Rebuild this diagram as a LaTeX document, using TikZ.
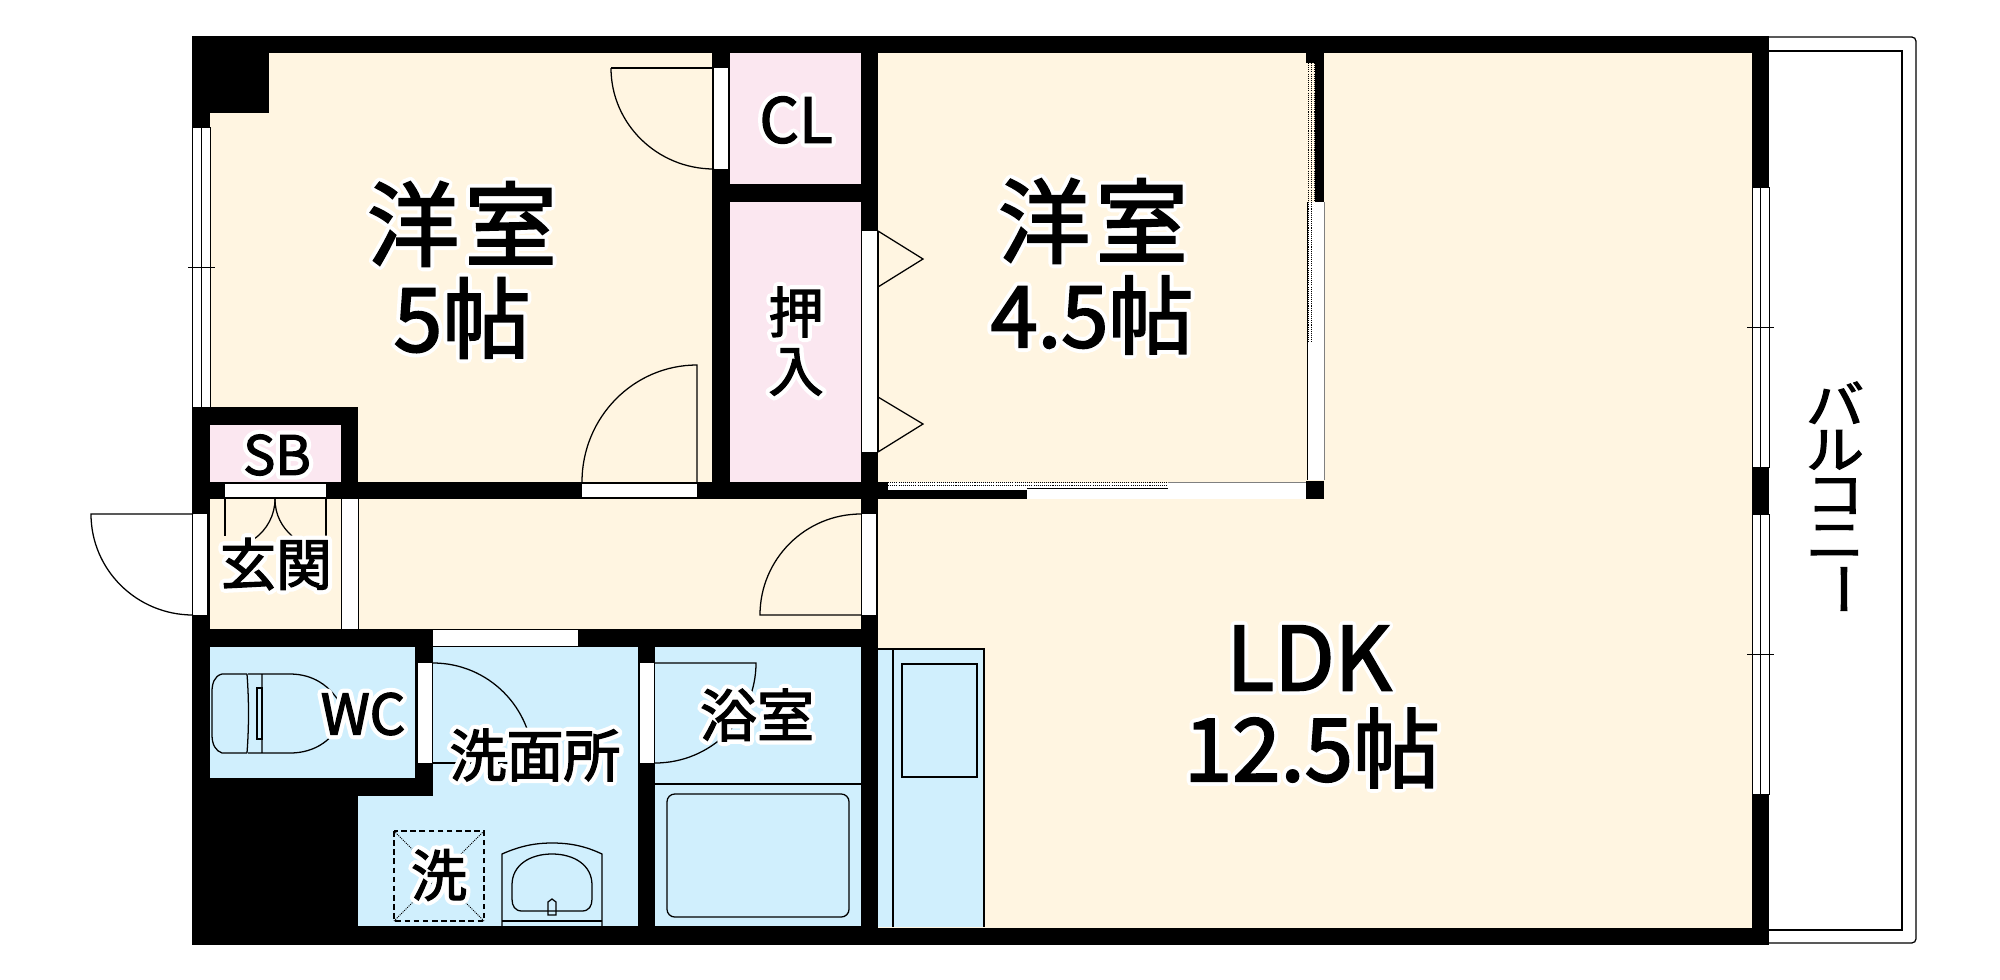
\documentclass[tikz,border=0pt]{standalone}
\usepackage{fontspec}
\newfontfamily\cjk{Noto Sans CJK JP}
\definecolor{cream}{RGB}{255,245,225}
\definecolor{pinkroom}{RGB}{251,231,240}
\definecolor{blueroom}{RGB}{208,239,253}
\newcommand\halo[2]{\leavevmode\rlap{\color{white}\special{pdf:code 2 Tr 14 w 1 J 1 j 1 1 1 RG}#2\special{pdf:code 0 Tr 1 w 0 J 0 j 0 0 0 RG}}\heavy{#1}{#2}}
\newcommand\heavy[2]{\special{pdf:code 2 Tr \fpeval{#1*0.032} w 0 0 0 RG}#2\special{pdf:code 0 Tr 1 w}}
\newcommand\lab[4]{\node[inner sep=0pt,anchor=center] (#1) at (#2) {\fontsize{\fpeval{#3*1.4226}}{\fpeval{#3*1.4226}}\cjk\selectfont\halo{#3}{#4}};}
\newcommand\wide[1]{\scalebox{1.15}[1]{\heavy{50}{#1}}}
\tikzset{
  wall/.style={fill=black,draw=none},
  opening/.style={fill=white,draw=none},
  thinl/.style={draw=black,line width=1.8pt},
  hair/.style={draw=black,line width=1.2pt},
  dots/.style={draw=black,line width=1.1pt,dash pattern=on 1.5pt off 1.5pt},
}
\begin{document}
\begin{tikzpicture}[x=0.05cm,y=-0.05cm]
\useasboundingbox (0,0) rectangle (2000,980);
% balcony
\draw[thinl,rounded corners=6pt] (1769,37) -- (1916,37) -- (1916,943) -- (1769,943);
\draw[thinl] (1769,51) -- (1902,51) -- (1902,930) -- (1769,930);
% floors
\fill[cream] (192,36) rectangle (1769,945);
\fill[pinkroom] (730,53) rectangle (861,482);
\fill[pinkroom] (210,425) rectangle (341,482);
\fill[blueroom] (210,647) rectangle (415,778);
\fill[blueroom] (433,647) rectangle (638,927);
\fill[blueroom] (358,796) rectangle (638,927);
\fill[blueroom] (655,647) rectangle (861,927);
\fill[blueroom] (878,649) rectangle (984,927);
% walls
\fill[wall] (192,36) rectangle (1769,53);
\fill[wall] (192,928) rectangle (1769,945);
\fill[wall] (192,36) rectangle (210,945);
\fill[wall] (192,36) rectangle (269,113);
\fill[wall] (1752,36) rectangle (1769,945);
\fill[wall] (712,36) rectangle (730,497);
\fill[wall] (712,184) rectangle (878,202);
\fill[wall] (861,36) rectangle (878,945);
\fill[wall] (192,407) rectangle (358,425);
\fill[wall] (341,407) rectangle (358,497);
\fill[wall] (192,482) rectangle (888,499);
\fill[wall] (888,490) rectangle (1027,499);
\fill[wall] (192,629) rectangle (878,647);
\fill[wall] (415,647) rectangle (433,796);
\fill[wall] (192,778) rectangle (433,796);
\fill[wall] (192,778) rectangle (358,945);
\fill[wall] (638,647) rectangle (655,945);
\fill[wall] (358,926) rectangle (878,945);
\fill[wall] (1315,36) rectangle (1324,202);
\fill[wall] (1306,36) rectangle (1324,63);
\fill[wall] (1306,481) rectangle (1324,499);
% windows
\fill[opening] (192,127) rectangle (210,407);
\draw[hair] (192,127) rectangle (210,407) (201,127) -- (201,407);
\draw[hair] (188,267) -- (215,267);
\fill[opening] (1752,187) rectangle (1769,467);
\draw[hair] (1752,187) rectangle (1769,467) (1760,187) -- (1760,467);
\draw[hair] (1747,327) -- (1774,327);
\fill[opening] (1752,514) rectangle (1769,794);
\draw[hair] (1752,514) rectangle (1769,794) (1760,514) -- (1760,794);
\draw[hair] (1747,654) -- (1774,654);
% door openings
\fill[opening] (714,68) rectangle (728,169);
\fill[opening] (582,484) rectangle (697,497);
\fill[opening] (225,484) rectangle (326,497);
\fill[opening] (193,514) rectangle (207,615);
\fill[opening] (862,514) rectangle (876,615);
\fill[opening] (862,231) rectangle (877,452);
\fill[opening] (341,499) rectangle (358,629);
\draw[hair] (341,499) -- (341,629) (358,499) -- (358,629);
\fill[opening] (433,630) rectangle (578,646);
\fill[opening] (418,663) rectangle (432,763);
\fill[opening] (640,663) rectangle (654,763);
\fill[opening] (1308,202) rectangle (1324,480);
\fill[opening] (1027,483) rectangle (1306,499);
\fill[opening] (888,482) rectangle (1027,490);
% door swings
\draw[thinl] (611,68) -- (714,68);
\draw[thinl] (611,68) arc[start angle=180,end angle=270,x radius=103,y radius=-101];
\draw[thinl] (697,482) -- (697,365) arc[start angle=90,end angle=180,x radius=115,y radius=-117];
\draw[thinl] (193,514) -- (91,514) arc[start angle=180,end angle=270,x radius=102,y radius=-101];
\draw[thinl] (861,615) -- (760,615) arc[start angle=180,end angle=90,x radius=101,y radius=-101];
\draw[thinl] (433,663) arc[start angle=-90,end angle=0,radius=100];
\draw[thinl] (433,763) -- (533,763);
\draw[thinl] (655,663) -- (756,663) arc[start angle=0,end angle=-90,x radius=101,y radius=-100];
% foyer folding door
\draw[thinl] (225,499) -- (225,536) (326,499) -- (326,536);
\draw[thinl] (275,499) .. controls (275,515) and (267,530) .. (254,539);
\draw[thinl] (275,499) .. controls (275,515) and (282,527) .. (292,536);
% closet folding doors
\draw[thinl] (878,231) -- (923,259) -- (878,287);
\draw[thinl] (878,397) -- (923,424) -- (878,452);
\draw[thinl] (878,231) -- (878,452);
% sliding doors
\draw[dots] (1308,63) -- (1308,342) (1311,63) -- (1311,342) (1314,63) -- (1314,202);
\draw[hair] (1307,202) -- (1307,480);
\draw[draw=gray,line width=1.1pt] (1324,202) -- (1324,480);
\draw[dots] (888,482.5) -- (1168,482.5) (888,485.5) -- (1168,485.5);
\draw[hair] (1027,488) -- (1168,488);
\draw[draw=gray,line width=1.2pt] (1168,482.5) -- (1306,482.5);
% bath
\draw[thinl] (655,784) -- (861,784);
\draw[thinl,rounded corners=11pt] (667,794) rectangle (849,917);
% washer pan
\draw[thinl,dash pattern=on 8pt off 5pt] (394,831) rectangle (484,921);
\draw[dots] (394,831) -- (484,921) (484,831) -- (394,921);
% wash basin
\draw[thinl] (502,926) -- (502,854) .. controls (520,846) and (535,843) .. (552,843) .. controls (570,843) and (585,846) .. (602,854) -- (602,926);
\draw[thinl] (502,921) -- (602,921);
\draw[thinl] (522,911) .. controls (515,911) and (512,906) .. (512,899) -- (512,885) .. controls (512,865) and (530,854) .. (552,854) .. controls (574,854) and (592,865) .. (592,885) -- (592,899) .. controls (592,906) and (589,911) .. (582,911) -- cycle;
\draw[thinl] (548,915) -- (548,902) -- (552,899) -- (556,902) -- (556,915) -- cycle;
% toilet
\draw[thinl] (247,674) -- (222,674) .. controls (214,676) and (212,684) .. (212,692) -- (212,735) .. controls (212,745) and (216,751) .. (222,753) -- (247,753);
\draw[thinl] (247,674) .. controls (249,700) and (249,727) .. (247,753);
\draw[thinl] (262,674) -- (262,753) (248,674) -- (290,674) .. controls (315,674) and (335,688) .. (345,714) .. controls (335,740) and (315,753) .. (290,753) -- (248,753);
\draw[thinl] (257,688) rectangle (262,739);
% kitchen
\draw[thinl] (878,649) -- (984,649) -- (984,927);
\draw[thinl] (893,649) -- (893,927);
\draw[thinl] (902,664) rectangle (977,777);
% labels
\lab{youA}{462,224}{92}{洋\hspace{0.06em}室}
\lab{joA}{462,318}{88}{5帖}
\lab{youB}{1093,221}{92}{洋\hspace{0.06em}室}
\lab{joB}{1092,315}{85}{4.5帖}
\lab{ldk}{1309,658}{88}{LDK}
\lab{joC}{1312,748}{87}{12.5帖}
\lab{cl}{796,120}{62}{CL}
\lab{osi}{796,312}{55}{押}
\lab{iri}{796,372}{55}{入}
\lab{sb}{277,455}{54}{SB}
\lab{genkan}{276,564}{56}{玄関}
\lab{wc}{363,714}{56}{WC}
\lab{senmen}{535,755}{57}{洗面所}
\lab{yoku}{757,715}{57}{浴室}
\lab{sen}{439,875}{56}{洗}
\node[inner sep=0pt,align=center,font=\fontsize{72}{64}\cjk\selectfont] (bal) at (1835,470) {\wide{バ}\\\wide{ル}\\\wide{コ}\\\wide{ニ}};
\node[inner sep=0pt,rotate=-90] (balbar) at (1835,589) {\fontsize{76}{76}\cjk\selectfont\heavy{76}{ー}};
\end{tikzpicture}
\end{document}
